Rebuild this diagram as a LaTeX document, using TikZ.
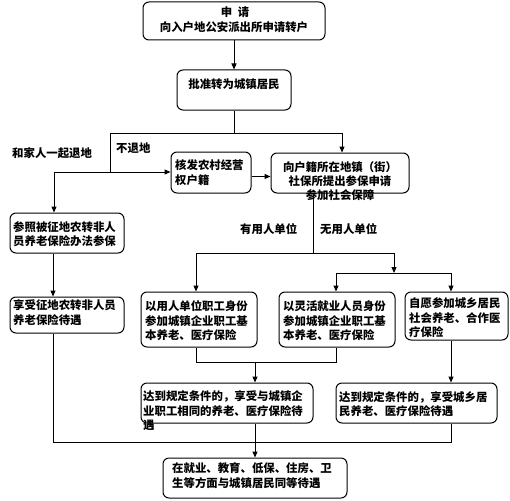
\documentclass[tikz,border=0pt]{standalone}
\usepackage{fontspec}
\setmainfont{Noto Sans CJK SC}
\usetikzlibrary{arrows.meta}
\begin{document}
\begin{tikzpicture}[x=1pt,y=-1pt,
  box/.style={draw, rounded corners=6pt, line width=1pt, inner sep=0pt},
  txt/.style={inner sep=0pt, font=\fontsize{11.4}{14.5}\selectfont\bfseries, align=left},
  ctxt/.style={inner sep=0pt, font=\fontsize{11.4}{14.2}\selectfont\bfseries, align=center},
  arr/.style={line width=1pt, -{Triangle[length=6pt,width=5pt]}},
  ln/.style={line width=1pt}]
\useasboundingbox (0,0) rectangle (510,500);
% boxes
\node[box, minimum width=182pt, minimum height=38pt] (b1) at (234,21) {};
\node[box, minimum width=114pt, minimum height=40pt] (b2) at (234,90) {};
\node[box, minimum width=80pt, minimum height=41pt] (b3) at (211,172.5) {};
\node[box, minimum width=138pt, minimum height=40pt] (b4) at (340,173) {};
\node[box, minimum width=114pt, minimum height=40pt] (b5) at (67,233) {};
\node[box, minimum width=114pt, minimum height=36pt] (b9) at (67,315) {};
\node[box, minimum width=116pt, minimum height=55pt] (b6) at (199,319.5) {};
\node[box, minimum width=116pt, minimum height=55pt] (b7) at (337,319.5) {};
\node[box, minimum width=103pt, minimum height=48pt] (b8) at (456.5,316) {};
\node[box, minimum width=172pt, minimum height=40pt] (b10) at (227,403) {};
\node[box, minimum width=161pt, minimum height=40pt] (b11) at (416.5,403) {};
\node[box, minimum width=184pt, minimum height=40pt] (b12) at (255,478) {};
% texts
\node[ctxt] (t1a) at (235,12) {申\hspace{0.5em}请};
\node[ctxt] (t1b) at (234,27) {向入户地公安派出所申请转户};
\node[ctxt] (t2) at (234,84) {批准转为城镇居民};
\node[txt, anchor=west] (t3) at (175,172.5) {核发农村经营\\权户籍};
\node[ctxt] (t4) at (340,181.3) {向户籍所在地镇（街）\\社保所提出参保申请\\参加社会保障};
\node[txt, anchor=west] (t5) at (13,234) {参照被征地农转非人\\员养老保险办法参保};
\node[txt, anchor=west] (t9) at (13,312.5) {享受征地农转非人员\\养老保险待遇};
\node[txt, anchor=west] (t6) at (145,321) {以用人单位职工身份\\参加城镇企业职工基\\本养老、医疗保险};
\node[txt, anchor=west] (t7) at (283,321) {以灵活就业人员身份\\参加城镇企业职工基\\本养老、医疗保险};
\node[txt, anchor=west] (t8) at (409,318) {自愿参加城乡居民\\社会养老、合作医\\疗保险};
\node[txt, anchor=west] (t10) at (143,411) {达到规定条件的，享受与城镇企\\业职工相同的养老、医疗保险待\\遇};
\node[txt, anchor=west] (t11) at (339,404) {达到规定条件的，享受城乡居\\民养老、医疗保险待遇};
\node[txt, anchor=west] (t12) at (172,475.5) {在就业、教育、低保、住房、卫\\生等方面与城镇居民同等待遇};
% labels
\node[txt, anchor=west] (l1) at (12,153) {和家人一起退地};
\node[txt, anchor=west] (l2) at (116,148) {不退地};
\node[txt, anchor=west] (l3) at (240,229) {有用人单位};
\node[txt, anchor=west] (l4) at (320,229) {无用人单位};
% junctions
\coordinate (j1) at (234,133);
\coordinate (jL) at (110,133);
\coordinate (jR) at (342,133);
\coordinate (jL2) at (110,172);
\coordinate (jL3) at (54,172);
\coordinate (j4) at (313,253);
\coordinate (jA) at (196,253);
\coordinate (jB) at (394,253);
\coordinate (jB2) at (394,273);
\coordinate (jC) at (336,273);
\coordinate (jD) at (451,273);
\coordinate (jE) at (196,362);
\coordinate (jF) at (336,362);
\coordinate (jG) at (255,362);
\coordinate (jH) at (53,442);
\coordinate (jI) at (451,442);
\coordinate (jJ) at (255,442);
% connectors
\draw[arr] (b1) -- (b2);
\draw[ln] (b2.south) -- (j1);
\draw[ln] (jL) -- (jR);
\draw[arr] (jR) -- (jR |- b4.north);
\draw[ln] (jL) -- (jL2);
\draw[arr] (jL3) -- (jL3 -| b3.west);
\draw[arr] (jL3) -- (jL3 |- b5.north);
\draw[arr] ([yshift=-4pt]b3.east) -- ([yshift=-4pt]b3.east -| b4.west);
\draw[ln] (j4 |- b4.south) -- (j4);
\draw[ln] (jA) -- (jB);
\draw[arr] (jA) -- (jA |- b6.north);
\draw[arr] (jB) -- (jB2);
\draw[ln] (jC) -- (jD);
\draw[arr] (jC) -- (jC |- b7.north);
\draw[arr] (jD) -- (jD |- b8.north);
\draw[ln] (jE |- b6.south) -- (jE) -- (jF) -- (jF |- b7.south);
\draw[arr] (jG) -- (jG |- b10.north);
\draw[arr] (jD |- b8.south) -- (jD |- b11.north);
\draw[arr] (jH |- b5.south) -- (jH |- b9.north);
\draw[ln] (jH |- b9.south) -- (jH) -- (jI) -- (jI |- b11.south);
\draw[arr] (jJ |- b10.south) -- (jJ |- b12.north);
\end{tikzpicture}
\end{document}
